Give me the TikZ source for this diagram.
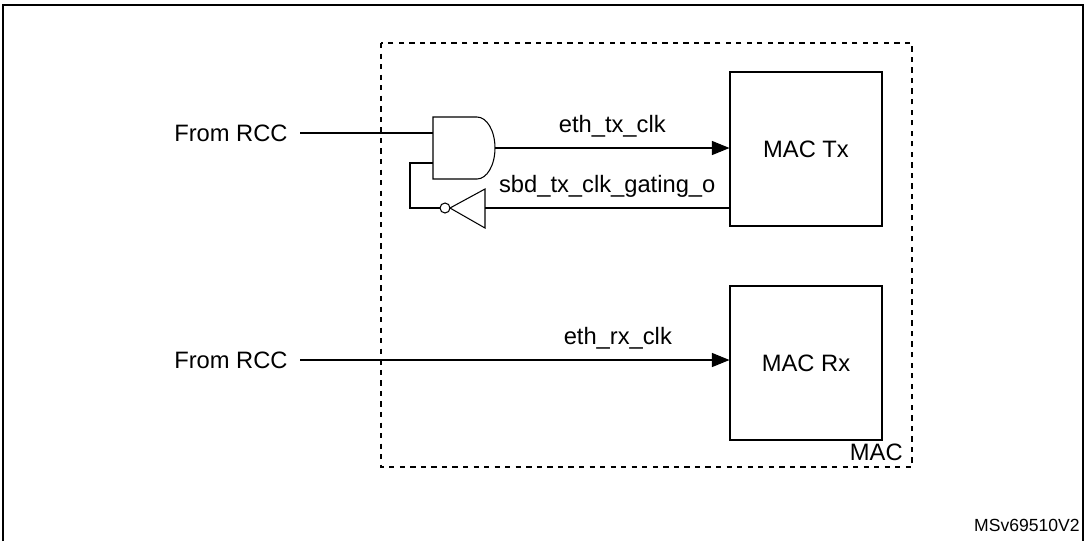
\documentclass[tikz,border=0pt]{standalone}
\usepackage{fontspec}
\setmainfont{Liberation Sans}
\usetikzlibrary{arrows.meta}
\begin{document}
\begin{tikzpicture}[x=0.02cm,y=-0.02cm,
	lbl/.style={inner sep=0pt,font=\fontsize{13.5}{16}\selectfont},
	blk/.style={draw=black,semithick,inner sep=0pt,font=\fontsize{13.5}{16}\selectfont},
	wire/.style={-,semithick,black},
	sig/.style={-{Triangle[length=10pt,width=8pt]},semithick,black}]
	\useasboundingbox (0,0) rectangle (1085,542);
	\draw[thick] (3,541) -- (3,5) -- (1083,5) -- (1083,541);% frame
	\draw[semithick,dashed] (381,43) rectangle (912,467);% MAC area
	\node[lbl,anchor=south east] (mac) at (903,461) {MAC};
	\node[lbl,anchor=south east] (ver) at (1080,532) {\fontsize{10}{12}\selectfont MSv69510V2};

	\node[blk,minimum width=3.04cm,minimum height=3.08cm] (Tx) at (806,149) {MAC Tx};
	\node[blk,minimum width=3.04cm,minimum height=3.08cm] (Rx) at (806,363) {MAC Rx};

	\node[lbl,anchor=east] (rccA) at (288,133) {From RCC};
	\node[lbl,anchor=east] (rccB) at (288,360) {From RCC};

	% and gate
	\draw[semithick] (477,117) -- (433,117) -- (433,179) -- (477,179)
		arc[start angle=-90,end angle=90,x radius=18,y radius=-31] -- cycle;
	\coordinate (andA) at (433,133);
	\coordinate (andB) at (433,163);
	\coordinate (andO) at (495,148);
	% inverter
	\draw[semithick] (485,189) -- (485,228) -- (450,208) -- cycle;
	\draw[semithick] (445,208) circle[radius=5];
	\coordinate (invI) at (485,208);
	\coordinate (invO) at (440,208);
	\coordinate (fbA) at (410,208);
	\coordinate (fbB) at (410,163);

	\path [wire] (rccA.east) ++(12,0) edge (andA);
	\path [sig] (andO) edge node[lbl,above=6pt] {eth\_tx\_clk} (andO -| Tx.west);
	\path [wire] (Tx.west |- invI) edge node[lbl,above=6pt] {sbd\_tx\_clk\_gating\_o} (invI);
	\draw [wire] (invO) -- (fbA) -- (fbB) -- (andB);
	\path [sig] (rccB.east) ++(12,0) edge node[lbl,above=6pt,pos=0.74] {eth\_rx\_clk} (Rx.west |- rccB);
\end{tikzpicture}
\end{document}
